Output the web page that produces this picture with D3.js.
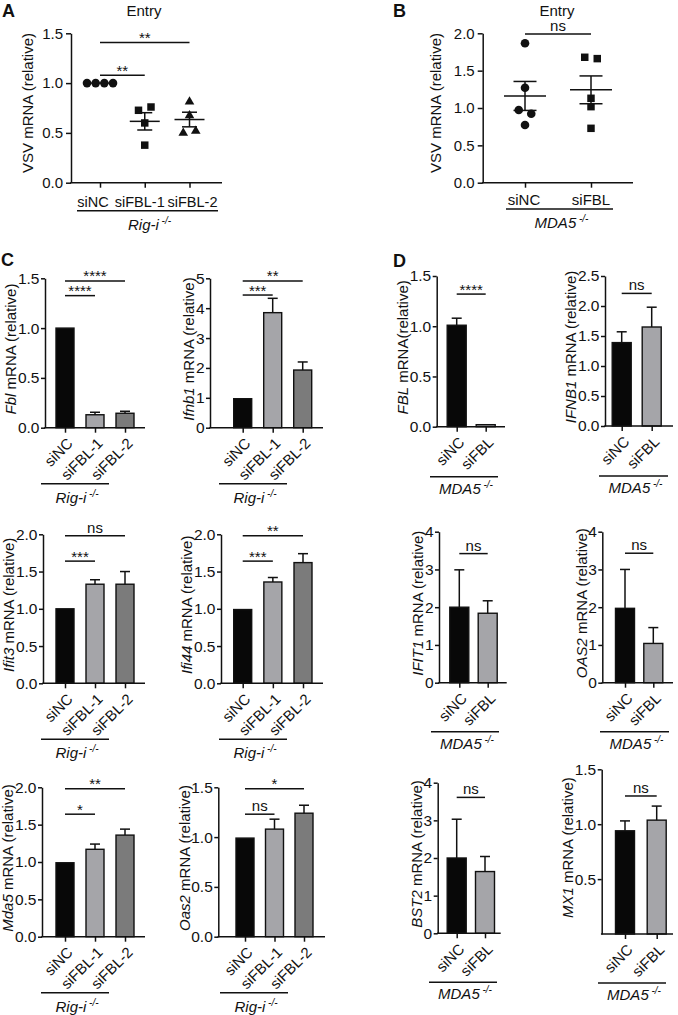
<!DOCTYPE html>
<html><head><meta charset="utf-8">
<script src="https://cdn.jsdelivr.net/npm/d3@7"></script>
<style>
body{margin:0;background:#fff}
svg{display:block}
text{font-family:'Liberation Sans',Arial,Helvetica,sans-serif;fill:#111}
</style>
</head><body>
<svg id="fig" width="678" height="1015"></svg>
<script>
// ================= DATA =================
// Panel A (scatter, Rig-i -/-)
const aCategories = ["siNC", "siFBL-1", "siFBL-2"];
const aSiNC   = [1.0, 1.0, 1.0, 1.0];
const aSiFBL1 = [0.727, 0.76, 0.60, 0.377];
const aSiFBL2 = [0.82, 0.683, 0.507, 0.527];
const aTicks  = [0, 0.5, 1.0, 1.5];
const aSig = [{from:0, to:2, y:1.407, label:"**"}, {from:0, to:1, y:1.08, label:"**"}];

// Panel B (scatter, MDA5 -/-)
const bCategories = ["siNC", "siFBL"];
const bSiNC  = [1.866, 1.272, 0.973, 0.924, 0.772];
const bSiFBL = [1.679, 1.661, 1.13, 1.018, 0.728];
const bTicks = [0, 0.5, 1.0, 1.5, 2.0];
const bSig = [{from:0, to:1, y:1.99, label:"ns"}];

// Panel C (bars, Rig-i -/-)
const cCategories = ["siNC", "siFBL-1", "siFBL-2"];
const fblMean   = [1.0, 0.13, 0.145],  fblErr   = [0, 0.025, 0.02];
const ifnb1Mean = [0.97, 3.85, 1.93],  ifnb1Err = [0, 0.48, 0.27];
const ifit3Mean = [1.0, 1.33, 1.33],   ifit3Err = [0, 0.06, 0.17];
const ifi44Mean = [0.99, 1.36, 1.62],  ifi44Err = [0.01, 0.06, 0.12];
const mda5Mean  = [0.99, 1.17, 1.36],  mda5Err  = [0.01, 0.07, 0.08];
const oas2Mean  = [0.99, 1.08, 1.24],  oas2Err  = [0.01, 0.10, 0.08];
const fblSig   = [{from:0,to:2,y:1.473,label:"****"},{from:0,to:1,y:1.326,label:"****"}];
const ifnb1Sig = [{from:0,to:2,y:4.91,label:"**"},{from:0,to:1,y:4.44,label:"***"}];
const ifit3Sig = [{from:0,to:2,y:1.98,label:"ns"},{from:0,to:1,y:1.64,label:"***"}];
const ifi44Sig = [{from:0,to:2,y:1.98,label:"**"},{from:0,to:1,y:1.64,label:"***"}];
const mda5Sig  = [{from:0,to:2,y:1.98,label:"**"},{from:0,to:1,y:1.64,label:"*"}];
const oas2Sig  = [{from:0,to:2,y:1.485,label:"*"},{from:0,to:1,y:1.23,label:"ns"}];

// Panel D (bars, MDA5 -/-)
const dCategories = ["siNC", "siFBL"];
const hFblMean   = [1.01, 0.02],  hFblErr   = [0.07, 0.01];
const hIfnb1Mean = [1.39, 1.65],  hIfnb1Err = [0.18, 0.33];
const hIfit1Mean = [2.0, 1.84],   hIfit1Err = [0.99, 0.33];
const hOas2Mean  = [1.97, 1.04],  hOas2Err  = [1.03, 0.42];
const hBst2Mean  = [2.0, 1.64],   hBst2Err  = [1.03, 0.40];
const hMx1Mean   = [0.94, 1.037], hMx1Err   = [0.09, 0.128];
const hFblSig   = [{from:0,to:1,y:1.32,label:"****"}];
const hIfnb1Sig = [{from:0,to:1,y:2.21,label:"ns"}];
const hIfit1Sig = [{from:0,to:1,y:3.42,label:"ns"}];
const hOas2Sig  = [{from:0,to:1,y:3.43,label:"ns"}];
const hBst2Sig  = [{from:0,to:1,y:3.61,label:"ns"}];
const hMx1Sig   = [{from:0,to:1,y:1.257,label:"ns"}];

// tick sets
const ticks15 = [0, 0.5, 1.0, 1.5];
const ticks20 = [0, 0.5, 1.0, 1.5, 2.0];
const ticks25 = [0, 0.5, 1.0, 1.5, 2.0, 2.5];
const ticks5  = [0, 1, 2, 3, 4, 5];
const ticks4  = [0, 1, 2, 3, 4];
const ticksMx1 = [0.5, 1.0, 1.5];

const cColors = ["#080808", "#a5a5a9", "#7b7b7b"];
const dColors = ["#080808", "#a5a5a9"];

// ================= LAYOUT =================
const svg = d3.select("#fig");
const INK = "#111";
const SW = 1.5;

// returns left-most x of the tick labels
function yAxis(g, ys, ticks, fmt, ax, fs, tickLen, pad) {
  const a = d3.axisLeft(ys).tickValues(ticks).tickFormat(d3.format(fmt))
    .tickSize(tickLen).tickSizeOuter(0).tickPadding(pad);
  const gg = g.append("g").attr("transform", `translate(${ax},0)`).call(a);
  gg.selectAll("text").style("font-size", fs + "px").attr("fill", INK);
  gg.selectAll("line,path").attr("stroke", INK).attr("stroke-width", SW);
  return ax + gg.node().getBBox().x;
}
function xAxis(g, xs, ax, xEnd, y0, tickLen) {
  g.append("line").attr("x1", ax - 0.75).attr("x2", xEnd).attr("y1", y0).attr("y2", y0)
    .attr("stroke", INK).attr("stroke-width", SW);
  const a = d3.axisBottom(xs).tickSize(tickLen).tickFormat(() => "").tickSizeOuter(0);
  const gg = g.append("g").attr("transform", `translate(0,${y0})`).call(a);
  gg.select(".domain").remove();
  gg.selectAll("line").attr("stroke", INK).attr("stroke-width", SW);
}
function yLabel(g, x, y, italicPart, rest) {
  const t = g.append("text").attr("transform", `translate(${x},${y}) rotate(-90)`)
    .attr("text-anchor", "middle").attr("dy", "0.35em").style("font-size", "15px");
  if (italicPart) t.append("tspan").style("font-style", "italic").text(italicPart);
  t.append("tspan").text(rest);
}
function sigBars(g, xs, ys, cats, sig) {
  sig.forEach(s => {
    const x1 = xs(cats[s.from]), x2 = xs(cats[s.to]), y = ys(s.y);
    g.append("line").attr("x1", x1).attr("x2", x2).attr("y1", y).attr("y2", y)
      .attr("stroke", INK).attr("stroke-width", SW);
    const isStar = s.label.indexOf("*") >= 0;
    g.append("text").attr("x", (x1 + x2) / 2).attr("y", isStar ? y + 0.5 : y - 3)
      .attr("text-anchor", "middle").style("font-size", "15px").text(s.label);
  });
}
function genotype(g, x1, x2, y, name, dyText) {
  g.append("line").attr("x1", x1).attr("x2", x2).attr("y1", y).attr("y2", y)
    .attr("stroke", INK).attr("stroke-width", SW);
  const t = g.append("text").attr("x", (x1 + x2) / 2 + 2).attr("y", y + dyText)
    .attr("text-anchor", "middle").style("font-size", "15px").style("font-style", "italic");
  t.append("tspan").text(name);
  t.append("tspan").attr("dy", -6).style("font-size", "10px").text(" -/-");
}
function panelLetter(x, y, s) {
  svg.append("text").attr("x", x).attr("y", y).style("font-size", "18px")
    .style("font-weight", "bold").text(s);
}

// ---------- scatter panels ----------
function spreadOffsets(values, ys, thresh) {
  const order = values.map((v, i) => i).sort((a, b) => values[b] - values[a] || a - b);
  const off = new Array(values.length).fill(0);
  let cluster = [order[0]];
  const flush = () => {
    const n = cluster.length;
    if (n > 1) {
      const sp = Math.min(12.5, 26 / (n - 1));
      cluster.slice().sort((a, b) => a - b).forEach((k, j) => off[k] = (j - (n - 1) / 2) * sp);
    }
  };
  for (let j = 1; j < order.length; j++) {
    const prev = cluster[cluster.length - 1];
    if (Math.abs(ys(values[order[j]]) - ys(values[prev])) < thresh) cluster.push(order[j]);
    else { flush(); cluster = [order[j]]; }
  }
  flush();
  return off;
}
function scatterPanel(cfg) {
  const g = svg.append("g");
  const L = cfg.L;
  const ys = d3.scaleLinear().domain([0, cfg.max]).range([L.y0, L.top]);
  const xs = d3.scalePoint().domain(cfg.cats).range([L.c0, L.c1]);
  const left = yAxis(g, ys, cfg.ticks, ".1f", L.ax, 15, 5, 3);
  xAxis(g, xs, L.ax, L.xEnd, L.y0, 5);
  cfg.cats.forEach((c, i) => {
    g.append("text").attr("x", xs(c) + L.nudge[i]).attr("y", L.y0 + L.labDy)
      .attr("text-anchor", "middle").style("font-size", L.labFs + "px").text(c);
  });
  cfg.groups.forEach((vals, gi) => {
    const cx = xs(cfg.cats[gi]);
    const off = spreadOffsets(vals, ys, 7.5);
    const sym = d3.symbol().type(cfg.shapes[gi]).size(cfg.sizes[gi]);
    g.selectAll(null).data(vals).join("path")
      .attr("transform", (d, i) => `translate(${cx + off[i]},${ys(d) + (cfg.shapes[gi] === d3.symbolTriangle ? 0.8 : 0)})`)
      .attr("d", sym).attr("fill", INK);
    const mean = d3.mean(vals);
    const sem = d3.deviation(vals) / Math.sqrt(vals.length);
    g.append("line").attr("x1", cx - L.meanW / 2).attr("x2", cx + L.meanW / 2)
      .attr("y1", ys(mean)).attr("y2", ys(mean)).attr("stroke", INK).attr("stroke-width", SW);
    if (sem > 0) {
      g.append("line").attr("x1", cx).attr("x2", cx).attr("y1", ys(mean - sem)).attr("y2", ys(mean + sem))
        .attr("stroke", INK).attr("stroke-width", SW);
      [mean - sem, mean + sem].forEach(v => g.append("line").attr("x1", cx - L.capW / 2).attr("x2", cx + L.capW / 2)
        .attr("y1", ys(v)).attr("y2", ys(v)).attr("stroke", INK).attr("stroke-width", SW));
    }
  });
  sigBars(g, xs, ys, cfg.cats, cfg.sig);
  yLabel(g, left - L.gap - 5.25, (L.y0 + L.top) / 2 - 5, null, "VSV mRNA (relative)");
  g.append("text").attr("x", L.titleX).attr("y", 16).attr("text-anchor", "middle")
    .style("font-size", "15px").text("Entry");
  genotype(g, L.line[0], L.line[1], L.lineY, L.geno, L.genoDy);
}

scatterPanel({
  cats: aCategories, groups: [aSiNC, aSiFBL1, aSiFBL2], max: 1.5, ticks: aTicks, sig: aSig,
  shapes: [d3.symbolCircle, d3.symbolSquare, d3.symbolTriangle], sizes: [58, 56, 40],
  L: {ax: 71, top: 33.3, y0: 182.7, xEnd: 222, c0: 100, c1: 189.5, nudge: [-7, -5, 3], labDy: 24, labFs: 14.5,
      meanW: 30, capW: 15, gap: 9, titleX: 144, line: [77, 218], lineY: 210.7, geno: "Rig-i", genoDy: 19}
});
scatterPanel({
  cats: bCategories, groups: [bSiNC, bSiFBL], max: 2.0, ticks: bTicks, sig: bSig,
  shapes: [d3.symbolCircle, d3.symbolSquare], sizes: [58, 56],
  L: {ax: 482.7, top: 33.3, y0: 182.7, xEnd: 633, c0: 525, c1: 591, nudge: [-1, 0], labDy: 22, labFs: 15,
      meanW: 42, capW: 23, gap: 13, titleX: 557, line: [506, 613], lineY: 209, geno: "MDA5", genoDy: 19}
});

// ---------- bar panels ----------
function barPanel(cfg) {
  const g = svg.append("g");
  const L = cfg.L;
  const ys = d3.scaleLinear().domain([0, cfg.max]).range([L.y0, L.top]);
  const xs = d3.scalePoint().domain(cfg.cats).range([L.c0, L.c1]);
  const bw = cfg.cats.length === 3 ? 18 : 19;
  g.selectAll(null).data(cfg.cats).join("rect")
    .attr("x", d => xs(d) - bw / 2).attr("y", (d, i) => ys(cfg.mean[i]))
    .attr("width", bw).attr("height", (d, i) => L.y0 - ys(cfg.mean[i]))
    .attr("fill", (d, i) => cfg.colors[i]).attr("stroke", INK).attr("stroke-width", 1.4);
  cfg.cats.forEach((c, i) => {
    if (cfg.err[i] <= 0.015) return;
    const x = xs(c), yT = ys(cfg.mean[i] + cfg.err[i]);
    g.append("line").attr("x1", x).attr("x2", x).attr("y1", ys(cfg.mean[i])).attr("y2", yT)
      .attr("stroke", INK).attr("stroke-width", SW);
    g.append("line").attr("x1", x - 5).attr("x2", x + 5).attr("y1", yT).attr("y2", yT)
      .attr("stroke", INK).attr("stroke-width", SW);
  });
  const left = yAxis(g, ys, cfg.ticks, cfg.fmt, L.ax, 15.5, 4, 1.5);
  xAxis(g, xs, L.ax, L.xEnd, L.y0, 5);
  cfg.cats.forEach(c => {
    g.append("text").attr("transform", `translate(${xs(c) + 5},${L.y0 + 13}) rotate(-45)`)
      .attr("text-anchor", "end").attr("dy", "0.35em").style("font-size", "15px").text(c);
  });
  sigBars(g, xs, ys, cfg.cats, cfg.sig);
  const lx = Math.max(7, left - 1.5 - 5.25);
  yLabel(g, lx, (L.y0 + L.top) / 2 - 4, cfg.gene, cfg.rest);
  genotype(g, L.line[0], L.line[1], L.y0 + L.lineDy, cfg.geno, L.genoDy);
}

const C_REST = " mRNA (relative)";
barPanel({gene:"Fbl", rest:C_REST, cats:cCategories, mean:fblMean, err:fblErr, max:1.5, ticks:ticks15, fmt:".1f",
  sig:fblSig, colors:cColors, geno:"Rig-i",
  L:{ax:45, top:278.3, y0:427.7, xEnd:145, c0:65, c1:125, line:[41,109], lineDy:56, genoDy:19}});
barPanel({gene:"Ifnb1", rest:C_REST, cats:cCategories, mean:ifnb1Mean, err:ifnb1Err, max:5, ticks:ticks5, fmt:"d",
  sig:ifnb1Sig, colors:cColors, geno:"Rig-i",
  L:{ax:210, top:278.3, y0:427.7, xEnd:323, c0:242.7, c1:302.7, line:[219,287], lineDy:56, genoDy:19}});
barPanel({gene:"Ifit3", rest:C_REST, cats:cCategories, mean:ifit3Mean, err:ifit3Err, max:2, ticks:ticks20, fmt:".1f",
  sig:ifit3Sig, colors:cColors, geno:"Rig-i",
  L:{ax:43, top:534.3, y0:683.3, xEnd:145, c0:65, c1:125, line:[41,109], lineDy:56, genoDy:19}});
barPanel({gene:"Ifi44", rest:C_REST, cats:cCategories, mean:ifi44Mean, err:ifi44Err, max:2, ticks:ticks20, fmt:".1f",
  sig:ifi44Sig, colors:cColors, geno:"Rig-i",
  L:{ax:221, top:534.3, y0:683.3, xEnd:323, c0:242.7, c1:303, line:[219,287], lineDy:56, genoDy:19}});
barPanel({gene:"Mda5", rest:C_REST, cats:cCategories, mean:mda5Mean, err:mda5Err, max:2, ticks:ticks20, fmt:".1f",
  sig:mda5Sig, colors:cColors, geno:"Rig-i",
  L:{ax:42, top:787.3, y0:936.7, xEnd:145, c0:65, c1:125, line:[41,109], lineDy:56, genoDy:19}});
barPanel({gene:"Oas2", rest:C_REST, cats:cCategories, mean:oas2Mean, err:oas2Err, max:1.5, ticks:ticks15, fmt:".1f",
  sig:oas2Sig, colors:cColors, geno:"Rig-i",
  L:{ax:218.3, top:787.3, y0:936.7, xEnd:325, c0:245, c1:304, line:[220,288], lineDy:56, genoDy:19}});

barPanel({gene:"FBL", rest:" mRNA(relative)", cats:dCategories, mean:hFblMean, err:hFblErr, max:1.5, ticks:ticks15, fmt:".1f",
  sig:hFblSig, colors:dColors, geno:"MDA5",
  L:{ax:436.7, top:276, y0:426.7, xEnd:505, c0:456.7, c1:485.7, line:[430,498], lineDy:50, genoDy:17}});
barPanel({gene:"IFNB1", rest:" mRNA (relative)", cats:dCategories, mean:hIfnb1Mean, err:hIfnb1Err, max:2.5, ticks:ticks25, fmt:".1f",
  sig:hIfnb1Sig, colors:dColors, geno:"MDA5",
  L:{ax:605, top:276, y0:426, xEnd:673, c0:621.7, c1:651.7, line:[599,668], lineDy:50, genoDy:17}});
barPanel({gene:"IFIT1", rest:"  mRNA (relative)", cats:dCategories, mean:hIfit1Mean, err:hIfit1Err, max:4, ticks:ticks4, fmt:"d",
  sig:hIfit1Sig, colors:dColors, geno:"MDA5",
  L:{ax:439, top:531.7, y0:682.7, xEnd:506.7, c0:459.3, c1:487.7, line:[431,499], lineDy:49, genoDy:17}});
barPanel({gene:"OAS2", rest:" mRNA (relative)", cats:dCategories, mean:hOas2Mean, err:hOas2Err, max:4, ticks:ticks4, fmt:"d",
  sig:hOas2Sig, colors:dColors, geno:"MDA5",
  L:{ax:602.3, top:531.7, y0:682.7, xEnd:673, c0:625, c1:653.3, line:[600,669], lineDy:49, genoDy:17}});
barPanel({gene:"BST2", rest:" mRNA (relative)", cats:dCategories, mean:hBst2Mean, err:hBst2Err, max:4, ticks:ticks4, fmt:"d",
  sig:hBst2Sig, colors:dColors, geno:"MDA5",
  L:{ax:437.7, top:782.7, y0:933.3, xEnd:500.7, c0:456.7, c1:485, line:[429,497], lineDy:49, genoDy:17}});
barPanel({gene:"MX1", rest:" mRNA (relative)", cats:dCategories, mean:hMx1Mean, err:hMx1Err, max:1.5, ticks:ticksMx1, fmt:".1f",
  sig:hMx1Sig, colors:dColors, geno:"MDA5",
  L:{ax:601.7, top:769.3, y0:934, xEnd:673, c0:625, c1:656.7, line:[598,666], lineDy:49, genoDy:17}});

panelLetter(2, 17, "A");
panelLetter(393, 17, "B");
panelLetter(1, 266, "C");
panelLetter(393, 267, "D");
</script>
</body></html>
